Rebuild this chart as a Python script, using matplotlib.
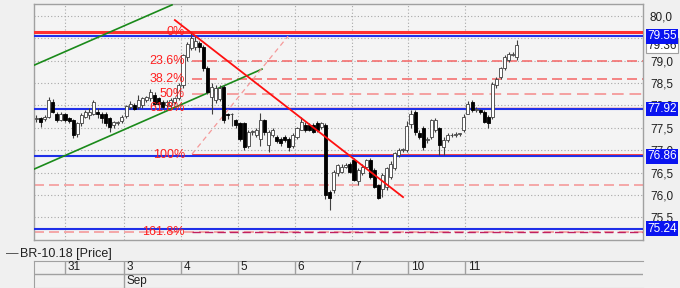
import matplotlib
matplotlib.use("Agg")
import matplotlib.pyplot as plt
import matplotlib.transforms as mtransforms

plt.rcParams["font.family"] = ["Liberation Sans", "DejaVu Sans"]

# hourly candles, BR-10.18
opens = [77.69, 77.71, 77.69, 77.75, 78.08, 77.82, 77.67, 77.82, 77.71, 77.67,
         77.37, 77.60, 77.75, 77.78, 77.82, 77.86, 77.82, 77.82, 77.71, 77.56,
         77.60, 77.65, 77.77, 77.97, 78.00, 77.97, 78.00, 78.12, 78.16, 78.23,
         78.16, 78.08, 78.02, 78.00, 78.08, 78.16, 78.45, 79.08, 79.28, 79.30,
         79.40, 79.31, 78.83, 78.20, 78.12, 78.14, 78.42, 77.80, 77.80, 77.67,
         77.60, 77.60, 77.10, 77.40, 77.34, 77.26, 77.67, 77.11, 77.34, 77.30,
         77.26, 77.30, 77.26, 77.10, 77.30, 77.45, 77.56, 77.56, 77.56, 77.60,
         77.52, 77.56, 76.07, 76.10, 76.48, 76.52, 76.63, 76.70, 76.78, 76.30,
         76.48, 76.63, 76.78, 76.55, 76.22, 76.14, 76.18, 76.40, 76.59, 76.89,
         77.00, 77.00, 77.58, 77.86, 77.38, 77.49, 77.22, 77.30, 77.45, 77.49,
         77.08, 77.22, 77.33, 77.35, 77.36, 77.45, 77.82, 78.08, 77.90, 77.90,
         77.86, 77.75, 77.75, 78.45, 78.64, 78.83, 79.02, 79.13, 79.09]
closes = [77.73, 77.63, 77.75, 78.12, 77.86, 77.67, 77.80, 77.67, 77.66, 77.34,
          77.60, 77.78, 77.86, 77.86, 78.08, 77.82, 77.71, 77.60, 77.52, 77.63,
          77.62, 77.75, 77.99, 78.04, 77.93, 78.12, 78.16, 78.18, 78.31, 78.04,
          78.04, 77.97, 78.08, 78.12, 78.16, 78.45, 79.13, 79.37, 79.50, 79.45,
          79.30, 78.83, 78.31, 78.42, 78.38, 78.40, 77.67, 77.78, 77.82, 77.56,
          77.26, 77.08, 77.40, 77.42, 77.45, 77.67, 77.41, 77.41, 77.45, 77.20,
          77.15, 77.22, 77.08, 77.34, 77.49, 77.63, 77.45, 77.45, 77.41, 77.45,
          77.60, 75.99, 75.92, 76.52, 76.67, 76.63, 76.66, 76.52, 76.33, 76.55,
          76.63, 76.78, 76.40, 76.18, 75.92, 76.44, 76.59, 76.70, 76.93, 77.00,
          77.02, 77.55, 77.82, 77.41, 77.30, 77.08, 77.25, 77.67, 77.67, 77.11,
          77.22, 77.34, 77.35, 77.36, 77.36, 77.75, 78.04, 77.90, 77.92, 77.86,
          77.63, 77.60, 78.49, 78.60, 78.83, 79.09, 79.16, 79.15, 79.36]
highs = [77.78, 77.75, 77.78, 78.19, 78.15, 77.86, 77.86, 77.84, 77.74, 77.70,
         77.62, 77.84, 77.90, 77.95, 78.12, 77.95, 77.86, 77.86, 77.75, 77.66,
         77.66, 77.78, 78.00, 78.10, 78.06, 78.23, 78.20, 78.22, 78.37, 78.30,
         78.20, 78.12, 78.12, 78.16, 78.20, 78.50, 79.15, 79.42, 79.64, 79.55,
         79.45, 79.35, 78.88, 78.50, 78.45, 78.45, 78.45, 77.84, 77.84, 77.70,
         77.63, 77.63, 77.45, 77.45, 77.50, 77.84, 77.70, 77.45, 77.50, 77.35,
         77.30, 77.33, 77.30, 77.38, 77.52, 77.75, 77.62, 77.60, 77.60, 77.65,
         77.63, 77.60, 76.10, 76.55, 76.70, 76.68, 76.72, 76.74, 76.82, 76.60,
         76.68, 76.80, 76.82, 76.60, 76.25, 76.48, 76.62, 76.75, 76.97, 77.04,
         77.05, 77.65, 77.90, 77.90, 77.45, 77.55, 77.30, 77.70, 77.72, 77.52,
         77.30, 77.38, 77.38, 77.40, 77.38, 77.80, 78.10, 78.12, 77.97, 77.93,
         77.90, 77.78, 78.52, 78.63, 78.86, 79.13, 79.20, 79.20, 79.46]
lows = [77.63, 77.52, 77.65, 77.72, 77.83, 77.64, 77.65, 77.62, 77.60, 77.27,
        77.30, 77.55, 77.72, 77.70, 77.78, 77.72, 77.60, 77.55, 77.41, 77.50,
        77.56, 77.60, 77.72, 77.92, 77.90, 77.92, 77.95, 78.08, 78.10, 78.00,
        78.00, 77.93, 77.97, 77.95, 78.04, 78.12, 78.40, 79.00, 79.25, 79.25,
        79.20, 78.78, 78.25, 77.82, 78.05, 78.10, 77.60, 77.70, 77.55, 77.50,
        77.20, 77.00, 77.05, 77.35, 77.30, 77.10, 77.35, 76.97, 77.30, 77.15,
        77.10, 77.18, 76.98, 77.05, 77.25, 77.45, 77.40, 77.42, 77.38, 77.40,
        77.48, 75.90, 75.67, 76.05, 76.42, 76.50, 76.60, 76.48, 76.30, 76.22,
        76.45, 76.60, 76.35, 76.15, 75.90, 75.95, 76.10, 76.35, 76.55, 76.85,
        76.97, 76.95, 77.50, 77.35, 77.25, 77.00, 77.15, 77.25, 77.40, 76.90,
        76.90, 77.18, 77.30, 77.30, 77.32, 77.40, 77.80, 77.85, 77.86, 77.82,
        77.60, 77.50, 77.70, 78.40, 78.60, 78.80, 78.98, 79.10, 79.02]

day_labels = ["31", "3", "4", "5", "6", "7", "10", "11"]
day_starts = [7.0, 21.5, 35.5, 49.5, 63.5, 77.5, 91.3, 105.3]
month_label = "Sep"
month_start = 21.5

blue_levels = [79.55, 77.92, 76.86, 75.24]
last_price = 79.36

fib_labels = ["0%", "23.6%", "38.2%", "50%", "61.8%", "100%", "161.8%"]
fib_levels = [79.64, 78.99, 78.586, 78.26, 77.95, 76.90, 75.174]
fib_extra_level = 76.23  # 123.6%, no label shown
fib_x = 38.2

# trend lines as (x0, y0, x1, y1) in candle index / price
green_upper = (-0.61, 78.90, 33.3, 80.25)
green_lower = (-0.61, 76.575, 55.4, 78.813)
red_down = (34.0, 79.91, 90.05, 75.95)
fib_trend = (38.2, 76.91, 61.8, 79.55)

W, H = 680, 288
fig = plt.figure(figsize=(W / 100, H / 100), dpi=100, facecolor="#f0f0f0")
ax = fig.add_axes([34 / W, 48 / H, 609 / W, 236 / H])
ax.set_facecolor("#f4f4f4")
xmin, xmax = -0.61, 149.0
ax.set_xlim(xmin, xmax)
ax.set_ylim(74.99, 80.27)

# grid
yt = [75.5, 76.0, 76.5, 77.0, 77.5, 78.0, 78.5, 79.0, 79.5, 80.0]
ax.set_yticks(yt)
ax.set_yticklabels([f"{v:.1f}".replace(".", ",") for v in yt])
ax.yaxis.tick_right()
ax.tick_params(axis="y", length=0, pad=5, labelsize=8.5, labelcolor="#202020")
ax.set_xticks(day_starts)
ax.set_xticklabels([])
ax.tick_params(axis="x", length=0)
ax.grid(True, color="#a8a8a8", linestyle=(0, (1, 2)), linewidth=0.8)
ax.set_axisbelow(True)
for s in ax.spines.values():
    s.set_color("#a0a0a0")
    s.set_linewidth(1)

# horizontal levels
for lv in [fib_extra_level, fib_levels[6]]:
    ax.axhline(lv, color="#f59a9a", linestyle=(0, (6, 3)), linewidth=1.2, zorder=2)
ax.hlines(fib_levels[1:3], fib_x, xmax, color="#f47070", linestyle=(0, (6, 3)), linewidth=1.2, zorder=2)
ax.hlines(fib_levels[3], fib_x, xmax, color="#f5a0a0", linestyle=(0, (6, 3)), linewidth=1.4, zorder=2)
ax.hlines(fib_levels[4], fib_x, xmax, color="#ff4040", linewidth=1.0, zorder=2.5)
ax.hlines(fib_levels[5], fib_x, xmax, color="#ff2020", linewidth=1.2, zorder=2.5)
for lv in blue_levels:
    ax.axhline(lv, color="#2030e8", linewidth=1.5, zorder=3)
ax.axhline(fib_levels[0], color="#ff3030", linewidth=2.2, zorder=3)
ax.hlines(fib_levels[6], fib_x, xmax, color="#c02060", linestyle=(0, (6, 3)), linewidth=1.0, zorder=4)

# trend lines
ax.plot(green_upper[::2], green_upper[1::2], color="#1a8a1a", linewidth=1.2, zorder=5)
ax.plot(green_lower[::2], green_lower[1::2], color="#1a8a1a", linewidth=1.2, zorder=5)
ax.plot(fib_trend[::2], fib_trend[1::2], color="#f59a9a", linestyle=(0, (4, 3)), linewidth=0.9, zorder=5)

# candles
idx = range(len(closes))
ax.vlines(list(idx), lows, highs, color="#404040", linewidth=0.8, zorder=6)
for i in idx:
    o, c = opens[i], closes[i]
    bottom = min(o, c)
    height = max(abs(c - o), 0.015)
    up = c >= o
    ax.bar(i, height, bottom=bottom, width=0.75,
           facecolor="white" if up else "black",
           edgecolor="#404040" if up else "black", linewidth=0.6, zorder=7)

ax.plot(red_down[::2], red_down[1::2], color="#ff1010", linewidth=1.3, zorder=8)

for lab, lv in zip(fib_labels, fib_levels):
    ax.text(36.5, lv, lab, ha="right", va="center", color="#ff2020",
            fontsize=9, zorder=9)

# right side price boxes
trans = mtransforms.blended_transform_factory(ax.transAxes, ax.transData)
ax.text(1.007, last_price - 0.02, f"{last_price:.2f}", transform=trans, ha="left", va="center",
        fontsize=8.5, color="#202020", clip_on=False, zorder=10,
        bbox=dict(boxstyle="square,pad=0.12", fc="white", ec="#a0a0a0", lw=0.8))
for lv in blue_levels:
    ax.text(1.007, lv, f"{lv:.2f}", transform=trans, ha="left", va="center",
            fontsize=8.5, color="white", clip_on=False, zorder=11,
            bbox=dict(boxstyle="square,pad=0.12", fc="#0a14f0", ec="none"))

# legend row
fig.text(6 / W, 1 - 254 / H, "\u2014", fontsize=9, color="#404040", va="center")
fig.text(20 / W, 1 - 254 / H, "BR-10.18 [Price]", fontsize=9, color="#202020", va="center")

# date axis
axd = fig.add_axes([34 / W, 0.5 / H, 609 / W, 27 / H])
axd.set_facecolor("#f0f0f0")
axd.set_xlim(xmin, xmax)
axd.set_ylim(0, 2)
axd.set_xticks([])
axd.set_yticks([])
for s in axd.spines.values():
    s.set_color("#a0a0a0")
axd.spines["right"].set_visible(False)
axd.axhline(1, color="#a0a0a0", linewidth=1)
axd.vlines(day_starts, 1, 2, color="#a0a0a0", linewidth=1)
axd.vlines([month_start], 0, 1, color="#a0a0a0", linewidth=1)
for lab, x in zip(day_labels, day_starts):
    axd.text(x + 0.6, 1.5, lab, ha="left", va="center", fontsize=8.5, color="#202020")
axd.text(month_start + 0.6, 0.5, month_label, ha="left", va="center", fontsize=8.5, color="#202020")

fig.savefig("out.png", dpi=100, facecolor=fig.get_facecolor())
